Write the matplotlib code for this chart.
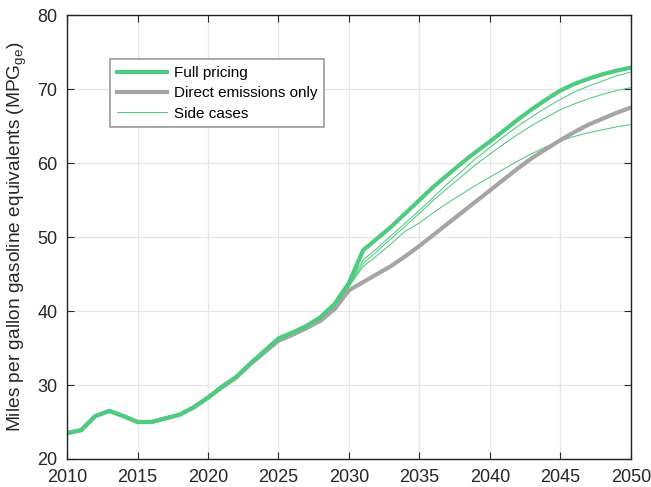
import matplotlib
matplotlib.use("Agg")
import matplotlib.pyplot as plt

plt.rcParams['font.family'] = ['Liberation Sans', 'DejaVu Sans']
plt.rcParams['mathtext.fontset'] = 'custom'
plt.rcParams['mathtext.rm'] = 'Liberation Sans'
plt.rcParams['mathtext.it'] = 'Liberation Sans:italic'

years = list(range(2010, 2051))

# Scénario avec tarification complète
full_pricing = [23.5, 23.9, 25.8, 26.5, 25.8, 25.0, 25.0, 25.5, 26.0, 27.0,
                28.3, 29.8, 31.1, 32.9, 34.6, 36.3, 37.1, 38.0, 39.2, 41.0,
                43.8, 48.2, 49.8, 51.4, 53.2, 55.0, 56.8, 58.4, 60.0, 61.5,
                62.9, 64.4, 65.9, 67.3, 68.6, 69.8, 70.7, 71.4, 72.0, 72.5, 72.9]

# Émissions directes seulement
direct_only = [23.5, 23.9, 25.8, 26.5, 25.8, 25.0, 25.0, 25.5, 26.0, 27.0,
               28.3, 29.7, 31.0, 32.8, 34.4, 36.0, 36.8, 37.7, 38.7, 40.3,
               42.8, 43.9, 45.0, 46.1, 47.4, 48.8, 50.3, 51.8, 53.3, 54.8,
               56.3, 57.8, 59.3, 60.7, 61.9, 63.1, 64.2, 65.2, 66.0, 66.8, 67.5]

# Cas secondaires
side_a = [23.5, 23.9, 25.8, 26.5, 25.8, 25.0, 25.0, 25.5, 26.0, 27.0,
          28.3, 29.8, 31.0, 32.8, 34.5, 35.9, 36.7, 37.7, 38.9, 40.6,
          43.5, 46.9, 48.5, 50.2, 51.9, 53.6, 55.4, 57.2, 58.9, 60.6,
          62.1, 63.6, 65.0, 66.3, 67.5, 68.6, 69.6, 70.4, 71.1, 71.8, 72.3]
side_b = [23.5, 23.9, 25.8, 26.5, 25.8, 25.0, 25.0, 25.5, 26.0, 27.0,
          28.3, 29.8, 31.0, 32.8, 34.5, 35.8, 36.6, 37.6, 38.8, 40.5,
          43.4, 46.4, 48.1, 49.8, 51.5, 53.2, 55.0, 56.6, 58.2, 59.8,
          61.2, 62.6, 63.9, 65.1, 66.2, 67.2, 68.0, 68.7, 69.3, 69.8, 70.2]
side_c = [23.5, 23.9, 25.8, 26.5, 25.8, 25.0, 25.0, 25.5, 26.0, 27.0,
          28.3, 29.8, 31.0, 32.8, 34.5, 35.8, 36.6, 37.5, 38.7, 40.4,
          43.3, 46.0, 47.5, 49.1, 50.8, 51.9, 53.3, 54.6, 55.8, 57.0,
          58.1, 59.2, 60.3, 61.3, 62.2, 63.0, 63.6, 64.1, 64.5, 64.9, 65.2]

green = '#4DCB7E'
grey = '#A5A5A5'

fig = plt.figure(figsize=(6.51, 4.87), dpi=100)
ax = fig.add_axes([0.103, 0.0575, 0.866, 0.9115])

ax.plot(years, side_a, color=green, linewidth=0.75)
ax.plot(years, side_b, color=green, linewidth=0.75)
ax.plot(years, side_c, color=green, linewidth=0.75)
ax.plot(years, direct_only, color=grey, linewidth=3)
ax.plot(years, full_pricing, color=green, linewidth=3)

# Légende
h1, = ax.plot([], [], color=green, linewidth=3, label='Full pricing')
h2, = ax.plot([], [], color=grey, linewidth=3, label='Direct emissions only')
h3, = ax.plot([], [], color=green, linewidth=0.75, label='Side cases')
leg = ax.legend(handles=[h1, h2, h3], loc='upper left', bbox_to_anchor=(0.076, 0.90),
                borderaxespad=0, fontsize=11, handlelength=3.3, handletextpad=0.45,
                labelspacing=0.4, borderpad=0.45, fancybox=False, framealpha=1)
leg.get_frame().set_edgecolor('#9A9A9A')
leg.get_frame().set_linewidth(1.2)

ax.set_xlim(2010, 2050)
ax.set_ylim(20, 80)
ax.set_xticks(range(2010, 2051, 5))
ax.set_yticks(range(20, 81, 10))
ax.tick_params(direction='in', length=5, width=0.8, labelsize=13, colors='#262626',
               top=True, right=True)
ax.tick_params(axis='x', pad=7)
ax.tick_params(axis='y', pad=7)
ax.grid(True, color='#E6E6E6', linewidth=0.9)
ax.set_axisbelow(True)
for s in ax.spines.values():
    s.set_color('#222222')
    s.set_linewidth(1.0)

ax.set_ylabel(r'Miles per gallon gasoline equivalents (MPG$_{\mathrm{ge}}$)',
              fontsize=13.8, color='#262626', labelpad=6)

fig.savefig('out.png', dpi=100)
